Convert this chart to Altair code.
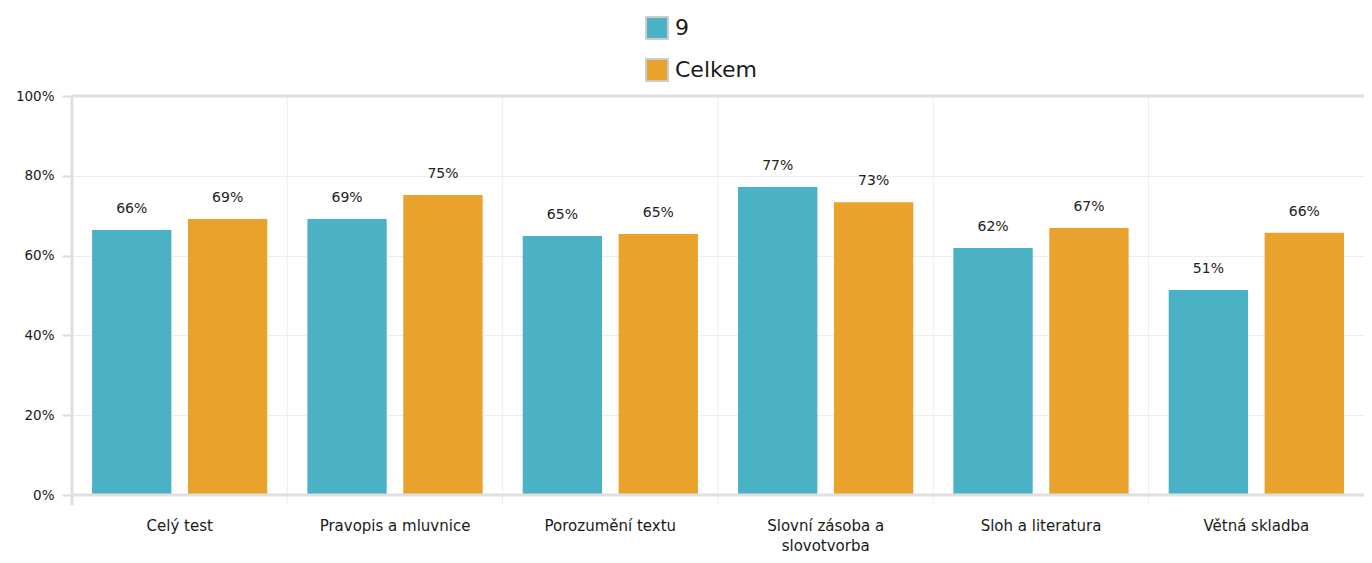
import altair as alt
import pandas as pd

categories = ["Celý test", "Pravopis a mluvnice", "Porozumění textu",
              "Slovní zásoba a slovotvorba", "Sloh a literatura", "Větná skladba"]
series_names = ["9", "Celkem"]
values_9 = [66.4, 69.2, 64.9, 77.2, 61.9, 51.4]
values_celkem = [69.2, 75.2, 65.4, 73.4, 66.9, 65.7]
colors = ["#4bb1c5", "#e9a22b"]

rows = []
for i, c in enumerate(categories):
    rows.append({"cat": c, "series": series_names[0], "val": values_9[i]})
    rows.append({"cat": c, "series": series_names[1], "val": values_celkem[i]})
df = pd.DataFrame(rows)
df["label"] = df["val"].round(0).astype(int).astype(str) + "%"

W, H = 1292, 399
FONT = "DejaVu Sans"

x_scale = alt.Scale(domain=categories, paddingInner=0, paddingOuter=0)
xo_scale = alt.Scale(domain=series_names, paddingInner=0.173, paddingOuter=0.209)
y_scale = alt.Scale(domain=[0, 100])

label_expr = ("datum.label == 'Slovní zásoba a slovotvorba' ? "
              "['Slovní zásoba a', 'slovotvorba'] : datum.label")

base = alt.Chart(df)

bars = base.mark_bar(stroke=None).encode(
    x=alt.X("cat:N", scale=x_scale, sort=categories,
            axis=alt.Axis(title=None, labelAngle=0, ticks=False, domain=False,
                          grid=False,
                          labelPadding=30, labelFontSize=15, labelFont=FONT,
                          labelColor="#1a1a1a", labelExpr=label_expr,
                          labelLineHeight=20, labelBaseline="middle")),
    xOffset=alt.XOffset("series:N", scale=xo_scale, sort=series_names),
    y=alt.Y("val:Q", scale=y_scale,
            axis=alt.Axis(title=None, values=[0, 20, 40, 60, 80, 100],
                          labelExpr="datum.value + '%'", labelFontSize=13.5,
                          labelFont=FONT, labelColor="#1a1a1a",
                          tickSize=10, tickColor="#dddddd", tickWidth=2,
                          domain=False, gridColor="#eeeeee", labelPadding=8)),
    color=alt.Color("series:N", sort=series_names,
                    scale=alt.Scale(domain=series_names, range=colors),
                    legend=alt.Legend(title=None, orient="none", legendX=573,
                                      legendY=-80, direction="vertical",
                                      symbolType="square", symbolSize=480,
                                      symbolStrokeColor="#cccccc",
                                      symbolStrokeWidth=2, symbolOpacity=1,
                                      labelFontSize=22, labelFont=FONT,
                                      labelColor="#1a1a1a", rowPadding=12,
                                      labelOffset=6)),
)

grid_df = pd.DataFrame({"cat": categories})
vgrid = alt.Chart(grid_df).mark_rule(color="#eeeeee", strokeWidth=1).encode(
    x=alt.X("cat:N", scale=x_scale, sort=categories, bandPosition=0),
    y=alt.value(0),
    y2=alt.value(H + 10),
)

texts = base.mark_text(baseline="bottom", dy=-14, fontSize=14, font=FONT,
                       color="#222222").encode(
    x=alt.X("cat:N", scale=x_scale, sort=categories),
    xOffset=alt.XOffset("series:N", scale=xo_scale, sort=series_names),
    y=alt.Y("val:Q", scale=y_scale),
    text="label:N",
)

frame_df = pd.DataFrame({"v": [0, 100]})
hlines = alt.Chart(frame_df).mark_rule(color="#e0e0e0", strokeWidth=3).encode(
    y=alt.Y("v:Q", scale=y_scale),
)
vline = alt.Chart(pd.DataFrame({"v": [0]})).mark_rule(
    color="#e0e0e0", strokeWidth=3).encode(
    x=alt.value(0), y=alt.value(0), y2=alt.value(H + 10),
)

chart = alt.layer(bars, vgrid, texts, hlines, vline).properties(
    width=W, height=H,
    autosize=alt.AutoSizeParams(type="none"),
    padding={"left": 64, "top": 88, "right": 0, "bottom": 60},
).configure_view(stroke=None).configure(background="white")

chart.save("out.html", embed_options={"renderer": "svg", "actions": False})
